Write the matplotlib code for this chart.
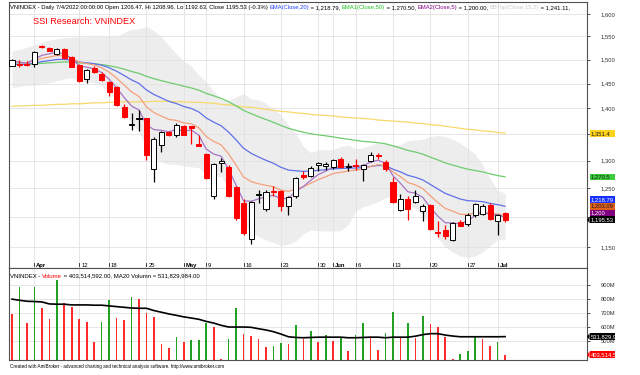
import matplotlib
matplotlib.use('Agg')
import matplotlib.pyplot as plt
from matplotlib.patches import Rectangle, Polygon
from matplotlib.ticker import FixedLocator, NullLocator, FuncFormatter
import matplotlib.transforms as mtransforms

FONT = 'Liberation Sans'
plt.rcParams['font.family'] = [FONT, 'DejaVu Sans']

W, H = 640, 375

# ---------------- data ----------------
dates = ['2022-03-29', '2022-03-30', '2022-03-31', '2022-04-01', '2022-04-04', '2022-04-05', '2022-04-06', '2022-04-07', '2022-04-08',
         '2022-04-12', '2022-04-13', '2022-04-14', '2022-04-15', '2022-04-18', '2022-04-19', '2022-04-20', '2022-04-21', '2022-04-22',
         '2022-04-25', '2022-04-26', '2022-04-27', '2022-04-28', '2022-04-29', '2022-05-04', '2022-05-05', '2022-05-06',
         '2022-05-09', '2022-05-10', '2022-05-11', '2022-05-12', '2022-05-13', '2022-05-16', '2022-05-17', '2022-05-18', '2022-05-19', '2022-05-20',
         '2022-05-23', '2022-05-24', '2022-05-25', '2022-05-26', '2022-05-27', '2022-05-30', '2022-05-31', '2022-06-01', '2022-06-02', '2022-06-03',
         '2022-06-06', '2022-06-07', '2022-06-08', '2022-06-09', '2022-06-10', '2022-06-13', '2022-06-14', '2022-06-15', '2022-06-16', '2022-06-17',
         '2022-06-20', '2022-06-21', '2022-06-22', '2022-06-23', '2022-06-24', '2022-06-27', '2022-06-28', '2022-06-29', '2022-06-30', '2022-07-01', '2022-07-04']

opens = [1487, 1491, 1491, 1491, 1529, 1524, 1511, 1522, 1506,
         1488, 1460, 1483, 1470, 1453, 1442, 1402, 1368, 1379,
         1380, 1285, 1330, 1353, 1348, 1366, 1365, 1331,
         1312, 1237, 1295, 1289, 1252, 1224, 1164, 1238, 1214, 1245,
         1246, 1220, 1236, 1274, 1273, 1292, 1291, 1289, 1303, 1288,
         1293, 1285, 1299, 1311, 1298, 1262, 1212, 1232, 1227, 1211,
         1221, 1175, 1179, 1162, 1192, 1188, 1203, 1206, 1221, 1194, 1206.47]
highs = [1501, 1500, 1496, 1518, 1531, 1527, 1524, 1524, 1508,
         1490, 1480, 1486, 1474, 1455, 1444, 1409, 1390, 1397,
         1381, 1344, 1356, 1356, 1371, 1368, 1366, 1349,
         1315, 1296, 1305, 1292, 1254, 1231, 1228, 1248, 1247, 1254,
         1248, 1236, 1270, 1281, 1290, 1297, 1298, 1304, 1306, 1295,
         1304, 1294, 1316, 1315, 1301, 1270, 1240, 1237, 1247, 1223,
         1222, 1193, 1187, 1192, 1196, 1207, 1224, 1222, 1224, 1206, 1208.96]
lows = [1486, 1485, 1487, 1485, 1524, 1518, 1509, 1502, 1484,
        1453, 1451, 1472, 1456, 1425, 1404, 1381, 1357, 1355,
        1301, 1262, 1316, 1347, 1344, 1348, 1332, 1327,
        1267, 1231, 1280, 1234, 1196, 1171, 1156, 1224, 1210, 1236,
        1210, 1204, 1233, 1266, 1271, 1281, 1283, 1285, 1286, 1282,
        1283, 1263, 1297, 1303, 1281, 1225, 1210, 1196, 1224, 1193,
        1179, 1167, 1164, 1161, 1185, 1186, 1201, 1204, 1195, 1171, 1192.63]
closes = [1499, 1489, 1489, 1517, 1526, 1519, 1523, 1503, 1485,
          1455, 1478, 1474, 1457, 1432, 1406, 1383, 1370, 1381,
          1310, 1340, 1354, 1349, 1368, 1349, 1362, 1328,
          1269, 1294, 1300, 1236, 1199, 1173, 1226, 1240, 1243, 1243,
          1219, 1235, 1268, 1271, 1287, 1295, 1294, 1302, 1289, 1291,
          1291, 1292, 1311, 1308, 1284, 1227, 1232, 1214, 1237, 1219,
          1181, 1173, 1168, 1190, 1186, 1203, 1222, 1220, 1197, 1203, 1195.53]

ema5 = [1497, 1494.3, 1492.5, 1500.7, 1509.1, 1512.4, 1515.9, 1511.6, 1502.7,
        1486.8, 1483.9, 1480.6, 1472.7, 1459.1, 1441.4, 1421.9, 1404.6, 1396.7,
        1367.8, 1358.5, 1357.0, 1354.3, 1358.9, 1355.6, 1357.7, 1347.8,
        1321.5, 1312.3, 1308.2, 1284.1, 1255.7, 1228.1, 1227.4, 1231.6, 1235.4, 1237.9,
        1231.6, 1232.7, 1244.5, 1253.3, 1264.5, 1274.7, 1281.1, 1288.1, 1288.4, 1289.3,
        1289.8, 1290.5, 1297.4, 1300.9, 1295.3, 1272.5, 1259.0, 1244.0, 1241.7, 1234.1,
        1216.4, 1201.9, 1190.6, 1190.4, 1188.9, 1193.6, 1203.1, 1208.7, 1204.8, 1204.2, 1200.0]
ema10 = [1495, 1493.9, 1493.0, 1497.4, 1502.6, 1505.6, 1508.8, 1507.7, 1503.6,
         1494.8, 1491.7, 1488.5, 1482.8, 1473.6, 1461.3, 1447.1, 1433.1, 1423.6,
         1402.9, 1391.5, 1384.7, 1378.2, 1376.3, 1371.4, 1369.7, 1362.1,
         1345.2, 1335.9, 1329.4, 1312.4, 1291.8, 1270.2, 1262.2, 1258.2, 1255.4, 1253.1,
         1246.9, 1244.7, 1249.0, 1253.0, 1259.2, 1265.7, 1270.8, 1276.5, 1278.8, 1281.0,
         1282.8, 1284.5, 1289.3, 1292.7, 1291.1, 1279.5, 1270.9, 1260.5, 1256.2, 1249.5,
         1237.0, 1225.4, 1215.0, 1210.4, 1205.0, 1204.5, 1207.3, 1209.2, 1206.6, 1205.5, 1203.09]
ema20 = [1490, 1490, 1490, 1492.4, 1495.6, 1497.8, 1500.2, 1500.5, 1499, 1494.8,
         1493.2, 1491.4, 1488.1, 1482.8, 1475.5, 1466.7, 1457.5, 1450.2, 1436.9, 1427.7,
         1420.7, 1413.9, 1409.5, 1403.7, 1399.7, 1392.9, 1381.1, 1372.8, 1365.9, 1353.5,
         1338.8, 1323, 1313.8, 1306.8, 1300.7, 1295.2, 1287.9, 1282.9, 1281.5, 1280.5,
         1281.1, 1282.4, 1283.5, 1285.3, 1285.7, 1286.2, 1286.7, 1287.2, 1289.5, 1291.3,
         1290.6, 1284.5, 1279.5, 1273.3, 1269.8, 1265, 1257, 1249, 1241.2, 1236.2,
         1231.3, 1228.5, 1227.7, 1226.8, 1223.8, 1221.6, 1218.79]
ema50 = [1490, 1490, 1490, 1491, 1492, 1493, 1494, 1495, 1494.5, 1493,
         1492, 1491, 1489.5, 1487, 1484, 1480, 1475, 1471, 1465, 1460,
         1456, 1452, 1448.5, 1444.5, 1441, 1436.5, 1430, 1425, 1420, 1413,
         1405, 1396, 1389.5, 1383.5, 1378, 1372.5, 1366.5, 1361, 1357, 1353.5,
         1350.5, 1348.5, 1346.5, 1344.5, 1342, 1340, 1338, 1336, 1335, 1333.5,
         1331.5, 1327.5, 1323.5, 1319, 1316, 1312, 1306.5, 1301.5, 1296, 1292,
         1288, 1284.5, 1282, 1279.5, 1276, 1273, 1270.5]
ema_long = [1404, 1405, 1405, 1406, 1406, 1407, 1408, 1408, 1409, 1409,
            1410, 1411, 1411, 1412, 1412, 1413, 1413, 1413, 1413, 1414,
            1414, 1414, 1413, 1413, 1412, 1412, 1411, 1410, 1408, 1407,
            1405, 1403, 1402, 1400, 1398, 1396, 1394, 1393, 1391, 1390,
            1388, 1387, 1386, 1385, 1383, 1382, 1381, 1380, 1379, 1377,
            1376, 1375, 1374, 1373, 1371, 1370, 1368, 1367, 1365, 1363,
            1361, 1359, 1358, 1356, 1355, 1353, 1351.4]
bb_top = [1518, 1522, 1526, 1532, 1538, 1542, 1545, 1547, 1548, 1549,
          1549, 1550, 1550, 1550, 1550.3, 1558.5, 1565.4, 1566.5, 1571.9, 1562.5,
          1548.8, 1530.2, 1512.3, 1496.9, 1486.3, 1467.6, 1453.5, 1433.9, 1417.1, 1416,
          1422.7, 1429.5, 1418.7, 1417.1, 1410.1, 1398.8, 1387.3, 1367, 1350.8, 1326.8,
          1315.1, 1320.2, 1320.2, 1320.8, 1326.6, 1329.3, 1322.1, 1323.4, 1329, 1332.7,
          1331.6, 1329.5, 1330.1, 1337.4, 1338.8, 1340.3, 1345.3, 1347.5, 1345.1, 1339.9,
          1332.6, 1322.9, 1312, 1292.5, 1267.9, 1246.9, 1241.11]
bb_bot = [1442, 1444, 1446, 1447, 1449, 1452, 1456, 1460, 1462, 1455,
          1454, 1451, 1446, 1432, 1416.7, 1393.0, 1370.2, 1354.7, 1321.7, 1306.3,
          1298.0, 1293.4, 1293.3, 1290.6, 1288.8, 1287.5, 1274.3, 1272.1, 1271.3, 1249.7,
          1218.5, 1185.5, 1175.5, 1167.9, 1161.9, 1158.4, 1152.6, 1155.1, 1160.5, 1172.4,
          1178.6, 1177, 1177, 1176.7, 1177.9, 1187.5, 1210.5, 1217.9, 1221.8, 1226.8,
          1233.3, 1236.5, 1235.5, 1220.9, 1215.1, 1204.5, 1184.3, 1166, 1150.5, 1142.5,
          1135.8, 1133.7, 1135.4, 1142.7, 1152.5, 1162.7, 1162.1]

volume_m = [693, 883, 631, 883, 733, 657, 936, 769, 740, 655,
            636, 495, 636, 793, 662, 650, 812, 800, 698, 674,
            483, 452, 526, 495, 507, 507, 626, 598, 376, 514,
            733, 550, 538, 514, 455, 464, 488, 479, 614, 512,
            574, 495, 543, 502, 531, 431, 543, 626, 538, 436,
            560, 710, 519, 626, 519, 679, 621, 602, 531, 376,
            407, 431, 531, 514, 467, 495, 403.514592]
volume_up = [0, 1, 0, 1, 0, 0, 1, 0, 0, 0,
             0, 0, 1, 1, 0, 0, 1, 0, 0, 0,
             0, 0, 1, 0, 1, 1, 1, 0, 0, 1,
             1, 0, 0, 0, 0, 1, 1, 0, 1, 0,
             1, 0, 1, 0, 1, 0, 1, 1, 0, 0,
             1, 1, 0, 1, 0, 1, 0, 0, 0, 0,
             1, 1, 1, 0, 0, 1, 0]
vol_ma20_m = [798, 790, 783, 781, 778, 764, 762, 762, 757, 757,
              757, 755, 755, 750, 745, 740, 735, 733, 733, 717,
              705, 693, 683, 672, 664, 655, 640, 628, 612, 600,
              600, 600, 598, 588, 579, 567, 550, 531, 526, 524,
              526, 528, 528, 528, 528, 524, 524, 526, 528, 528,
              524, 528, 528, 528, 535, 546, 553, 553, 543, 536,
              531, 531, 531, 531, 531, 531, 531.829984]

tick_dates = ['2022-04-01', '2022-04-12', '2022-04-18', '2022-04-25', '2022-05-04', '2022-05-09', '2022-05-16',
              '2022-05-23', '2022-05-30', '2022-06-01', '2022-06-06', '2022-06-13', '2022-06-20', '2022-06-27', '2022-07-01']
tick_labels = ['Apr', '12', '18', '25', 'May', '9', '16', '23', '30', 'Jun', '6', '13', '20', '27', 'Jul']
month_labels = ['Apr', 'May', 'Jun', 'Jul']
price_grid = [1150, 1200, 1250, 1300, 1350, 1400, 1450, 1500, 1550, 1600]
price_hidden = [1200, 1350]
vol_grid = [500, 600, 700, 800, 900]

header_parts = [('VNINDEX - Daily 7/4/2022 00:00:00 Open 1206.47, Hi 1208.96, Lo 1192.63, Close 1195.53 (-0.3%) ', '#000000'),
                ('EMA(Close,20)', '#2040ff'), (' = 1,218.79, ', '#000000'),
                ('EMA1(Close,50)', '#20c020'), (' = 1,270.50, ', '#000000'),
                ('EMA2(Close,5)', '#800080'), (' = 1,200.00, ', '#000000'),
                ('BBTop(Close,15,2)', '#c8c8c8'), (' = 1,241.11,', '#000000')]
vol_header_parts = [('VNINDEX - ', '#000000'), ('Volume', '#ff0000'),
                    (' = 403,514,592.00, MA20 Volumn = 531,829,984.00', '#000000')]
footer = 'Created with AmiBroker - advanced charting and technical analysis software. http://www.amibroker.com'

# ---------------- figure ----------------
fig = plt.figure(figsize=(W / 100, H / 100), dpi=100)
fig.patch.set_facecolor('white')
R = fig.canvas.get_renderer()


def px_axes(x0, y0, x1, y1):
    return fig.add_axes([x0 / W, 1 - y1 / H, (x1 - x0) / W, (y1 - y0) / H])


def text_w(s, size, weight='normal'):
    t = fig.text(0, 0, s + '|', fontsize=size, family=FONT, weight=weight)
    w1 = t.get_window_extent(renderer=R).width
    t.set_text('|')
    w2 = t.get_window_extent(renderer=R).width
    t.remove()
    return w1 - w2


def fit_size(s, target):
    return 10 * target / text_w(s, 10)


def seq_text(x, y, parts, size):
    full = ''
    for s, c in parts:
        off = text_w(full, size) if full else 0
        fig.text((x + off) / W, 1 - y / H, s, fontsize=size, color=c, family=FONT,
                 ha='left', va='center')
        full += s


n = len(closes)
idx = list(range(n))
XL = (-0.4, 76.97)
SP = '#505050'

ax = px_axes(9, 2, 587, 268)
axv = px_axes(9, 268, 587, 360)
for a in (ax, axv):
    a.set_xlim(*XL)
    a.set_xticks([])
    for s in a.spines.values():
        s.set_color(SP)
        s.set_linewidth(0.8)

ax.set_yscale('log')
ax.set_ylim(1116.8, 1627.4)
axv.set_ylim(366, 1019)

axis_size = fit_size('1,600', 14.5)

# grid
for p in price_grid:
    ax.axhline(p, color='#e2e2e2', lw=0.6, zorder=0.5)
for v in vol_grid:
    axv.axhline(v, color='#e2e2e2', lw=0.6, zorder=0.5)
tick_idx = [dates.index(d) for d in tick_dates]
for t in tick_idx:
    ax.axvline(t, color='#e2e2e2', lw=0.6, zorder=0.5)
    axv.axvline(t, color='#e2e2e2', lw=0.6, zorder=0.5)

# Bollinger band
ax.fill_between(idx, bb_bot, bb_top, color='#ededed', lw=0, zorder=0.3)

# moving averages
ax.plot(idx, ema_long, color='#f7d96a', lw=0.9, zorder=2)
ax.plot(idx, ema50, color='#6dcc6d', lw=0.9, zorder=2)
ax.plot(idx, ema20, color='#6070e8', lw=0.9, zorder=2)
ax.plot(idx, ema10, color='#f4a07c', lw=0.9, zorder=2)
ax.plot(idx, ema5, color='#a774c4', lw=0.9, zorder=2)

# candles
bw = 0.68
for i in idx:
    o, h, l, c = opens[i], highs[i], lows[i], closes[i]
    up = c >= o
    col = '#000000' if up else '#ff0000'
    ax.vlines(i, l, h, color=col, lw=0.9, zorder=3)
    lo_, hi_ = min(o, c), max(o, c)
    ax.add_patch(Rectangle((i - bw / 2, lo_), bw, hi_ - lo_,
                           facecolor='white' if up else '#ff0000',
                           edgecolor=col, lw=0.7, zorder=4))

# y axis (price)
ax.yaxis.tick_right()
ax.yaxis.set_major_locator(FixedLocator(price_grid))
ax.yaxis.set_minor_locator(NullLocator())
ax.yaxis.set_major_formatter(FuncFormatter(lambda v, p: '' if round(v) in price_hidden else f'{v:,.0f}'))
ax.tick_params(axis='y', which='both', direction='out', length=2.5, width=0.6, colors='#303030',
               labelsize=axis_size, pad=7.5)

# date labels inside price pane bottom
trans = mtransforms.blended_transform_factory(ax.transData, ax.transAxes)
for t, lab in zip(tick_idx, tick_labels):
    ax.plot([t, t], [(268 - 262.5) / 266, (268 - 265.5) / 266], transform=trans, color='#202020', lw=0.6,
            clip_on=False, zorder=5)
    ax.text(t + 0.25, (268 - 265.6) / 266, lab, transform=trans, fontsize=axis_size, ha='left', va='center',
            weight='bold' if lab in month_labels else 'normal', color='#000000', zorder=6)

# volume
vcols = ['#22a022' if u else '#ff2a2a' for u in volume_up]
axv.bar(idx, volume_m, width=0.22, color=vcols, zorder=2)
axv.plot(idx, vol_ma20_m, color='#000000', lw=1.2, zorder=3)
axv.yaxis.tick_right()
axv.yaxis.set_major_locator(FixedLocator(vol_grid))
axv.yaxis.set_major_formatter(FuncFormatter(lambda v, p: f'{v:.0f}M'))
axv.tick_params(axis='y', direction='out', length=2.5, width=0.6, colors='#303030',
                labelsize=axis_size, pad=7.5)

# texts
hs = fit_size(''.join(s for s, _ in header_parts), 556)
seq_text(10, 7.5, header_parts, hs)
ss = fit_size('SSI Research: VNINDEX', 102)
fig.text(33 / W, 1 - 21 / H, 'SSI Research: VNINDEX', fontsize=ss, color='#ff0000', ha='left', va='center')
vs = fit_size(''.join(s for s, _ in vol_header_parts), 190)
seq_text(10, 276, vol_header_parts, vs)
fs = fit_size(footer, 212)
fig.text(10 / W, 1 - 366.5 / H, footer, fontsize=fs, color='#000000', ha='left', va='center')

# right-hand value labels
axl = px_axes(587, 0, 615, 375)
axl.set_xlim(587, 615)
axl.set_ylim(375, 0)
axl.axis('off')
axl.patch.set_alpha(0)


def ypx(a, v):
    return H - a.transData.transform((0, v))[1]


def value_label(y, txt, fc, tc, arrow=False):
    axl.add_patch(Rectangle((589.5, y - 3.4), 40, 6.8, facecolor=fc, edgecolor='none', zorder=5, clip_on=True))
    axl.text(590.5, y, txt, fontsize=axis_size, color=tc, ha='left', va='center', zorder=6, clip_on=True)
    if arrow:
        axl.add_patch(Polygon([(587, y), (589.6, y - 3.4), (589.6, y + 3.4)], closed=True,
                              facecolor=fc, edgecolor='none', zorder=5))


price_labels = [(closes[-1], '1,195.53', '#000000', '#ffffff', True),
                (ema5[-1], '1,200', '#800080', '#ffffff', False),
                (ema10[-1], '1,203.09', '#e0601a', '#1a1a1a', False),
                (ema20[-1], '1,218.79', '#1530ff', '#ffffff', False),
                (ema50[-1], '1,270.5', '#3ccc3c', '#1a1a1a', False),
                (ema_long[-1], '1,351.4', '#ffd21e', '#1a1a1a', False)]
prev = None
for v, txt, fc, tc, arr in price_labels:
    y = ypx(ax, v)
    if prev is not None:
        y = min(y, prev - 6.8)
    value_label(y, txt, fc, tc, arr)
    prev = y

value_label(ypx(axv, vol_ma20_m[-1]), '531,829,984', '#000000', '#ffffff', True)
value_label(ypx(axv, volume_m[-1]), '403,514,592', '#ff0000', '#ffffff', True)

fig.savefig('out.png', dpi=100, facecolor='white')
